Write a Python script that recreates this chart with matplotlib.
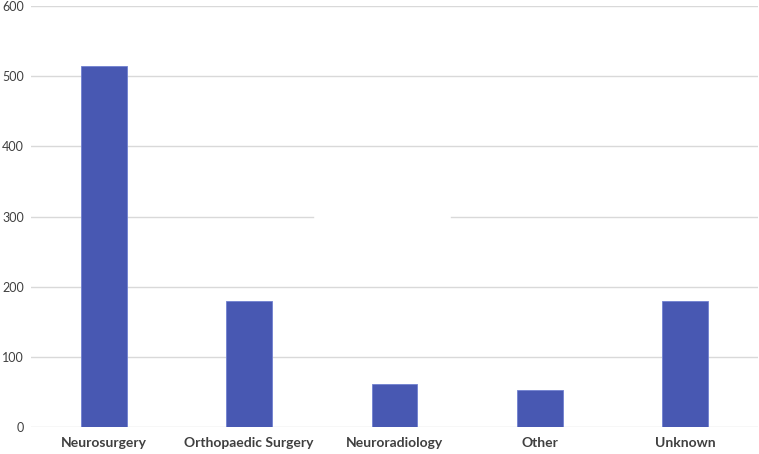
import matplotlib.pyplot as plt
import numpy as np

categories = ["Neurosurgery", "Orthopaedic Surgery", "Neuroradiology", "Other", "Unknown"]
counts = [514, 179, 61, 53, 179]
yticks = [0, 100, 200, 300, 400, 500, 600]

plt.rcParams["font.family"] = ["Lato", "DejaVu Sans"]

fig = plt.figure(figsize=(7.59, 4.54), dpi=100)
ax = fig.add_axes([0.0408, 0.0595, 0.958, 0.927])

x = np.arange(len(categories))
ax.bar(x, counts, width=0.315, color="#4858b2", edgecolor="#7080d0", linewidth=0.6, zorder=3)

# horizontal gridlines (the 300 line has a gap in the original)
for t in yticks:
    if t == 300:
        ax.axhline(t, xmin=0, xmax=0.388, color="#d9d9d9", linewidth=1.0, zorder=1)
        ax.axhline(t, xmin=0.578, xmax=1, color="#d9d9d9", linewidth=1.0, zorder=1)
    else:
        ax.axhline(t, color="#d9d9d9", linewidth=1.0, zorder=1)

ax.set_xlim(-0.5, len(categories) - 0.5)
ax.set_ylim(0, 600)
ax.set_yticks(yticks)
ax.set_yticklabels([str(t) for t in yticks], fontsize=9, color="#404040")
ax.set_xticks(x)
ax.set_xticklabels(categories, fontsize=10, fontweight="bold", color="#404040")
ax.tick_params(axis="both", length=0)
ax.tick_params(axis="y", pad=5)
ax.tick_params(axis="x", pad=7)
for s in ax.spines.values():
    s.set_visible(False)

fig.savefig("out.png", dpi=100)
